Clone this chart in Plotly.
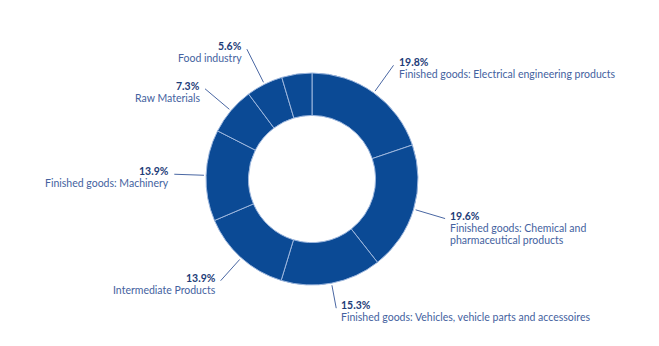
import math
import plotly.graph_objects as go

# ---- data ----
categories = [
    ["Finished goods: Electrical engineering products"],
    ["Finished goods: Chemical and", "pharmaceutical products"],
    ["Finished goods: Vehicles, vehicle parts and accessoires"],
    ["Intermediate Products"],
    ["Finished goods: Machinery"],
    ["Raw Materials"],
    ["Food industry"],
    [],
]
values = [19.8, 19.6, 15.3, 13.9, 13.9, 7.3, 5.6, 4.6]
pct_labels = ["19.8%", "19.6%", "15.3%", "13.9%", "13.9%", "7.3%", "5.6%", ""]

# ---- layout ----
W, H = 659, 346
CX, CY, R = 312, 179, 106  # pixel centre/radius of donut
HOLE = 0.6
FILL = "#0b4a95"
SEP = "#9db7de"
PCT_COLOR = "#1d3c78"
LBL_COLOR = "#4462a0"
LINE_COLOR = "#4a67a3"
FONT = "Lato"
FS = 10.5
LINE_GAP = 12
r_in_k = 1.02
r_out_k = [1.32, 1.31, 1.24, 1.29, 1.30, 1.32, 1.37, 1.3]

fig = go.Figure()
fig.add_trace(go.Pie(
    values=values,
    labels=[f"s{i}" for i in range(len(values))],
    hole=HOLE,
    sort=False,
    direction="clockwise",
    rotation=0,
    textinfo="none",
    hoverinfo="skip",
    marker=dict(colors=[FILL] * len(values), line=dict(color=SEP, width=1)),
    domain=dict(x=[(CX - R) / W, (CX + R) / W],
                y=[(H - CY - R) / H, (H - CY + R) / H]),
    showlegend=False,
))

total = sum(values)
cum = 0.0
shapes = []
annotations = []
for i, v in enumerate(values):
    mid = (cum + v / 2) / total * 2 * math.pi
    cum += v
    if not pct_labels[i]:
        continue
    s, c = math.sin(mid), math.cos(mid)
    x0, y0 = CX + R * r_in_k * s, CY - R * r_in_k * c
    ro = R * r_out_k[i]
    x1, y1 = CX + ro * s, CY - ro * c
    shapes.append(dict(type="line", xref="paper", yref="paper",
                       x0=x0 / W, y0=1 - y0 / H, x1=x1 / W, y1=1 - y1 / H,
                       line=dict(color=LINE_COLOR, width=1)))
    right = s >= 0
    tx = x1 + (3 if right else -3)
    lines = [(f"<b>{pct_labels[i]}</b>", PCT_COLOR)] + [(t, LBL_COLOR) for t in categories[i]]
    for k, (t, col) in enumerate(lines):
        ty = y1 - 3 + k * LINE_GAP
        annotations.append(dict(
            x=tx / W, y=1 - ty / H, xref="paper", yref="paper",
            text=t, showarrow=False,
            xanchor="left" if right else "right", yanchor="middle",
            align="left" if right else "right",
            font=dict(family=FONT, size=FS, color=col),
        ))

fig.update_layout(
    width=W, height=H,
    margin=dict(l=0, r=0, t=0, b=0),
    paper_bgcolor="white", plot_bgcolor="white",
    shapes=shapes, annotations=annotations,
)
fig.write_html("out.html")
